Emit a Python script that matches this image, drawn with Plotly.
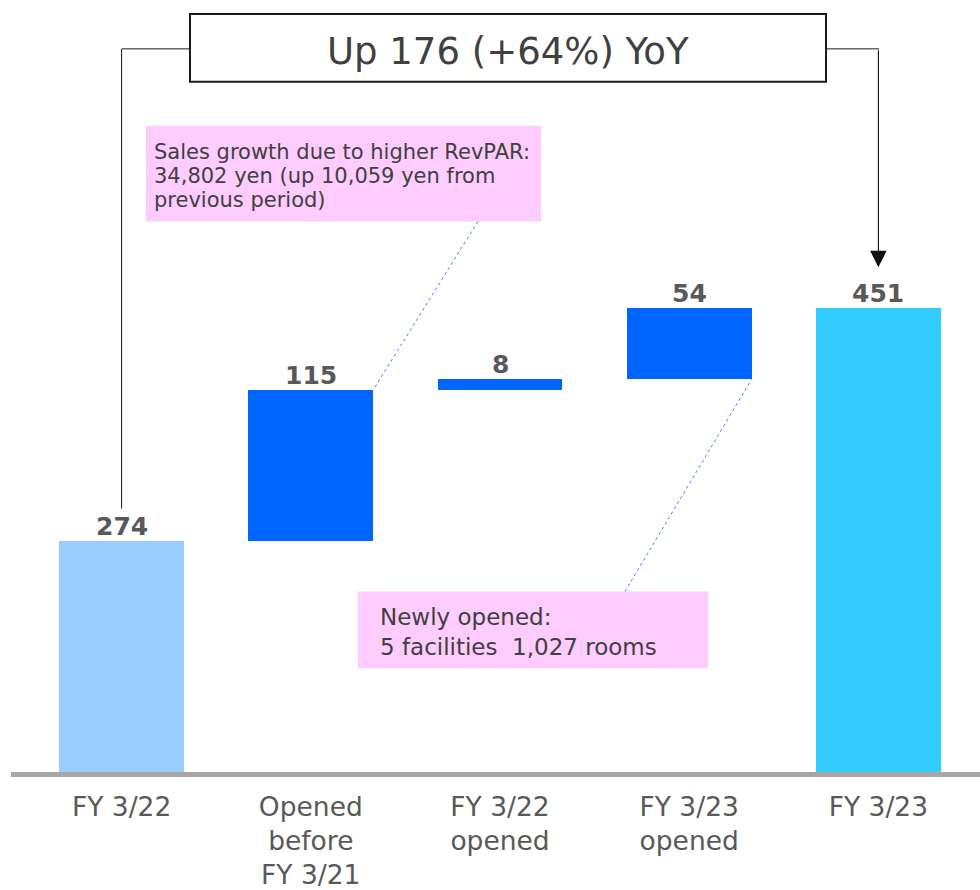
import plotly.graph_objects as go

# Sales bridge, FY 3/22 -> FY 3/23
categories = ["FY 3/22", "Opened<br>before<br>FY 3/21", "FY 3/22<br>opened", "FY 3/23<br>opened", "FY 3/23"]
values = [274, 115, 8, 54, 451]
kinds = ["total", "step", "step", "step", "total"]
bar_colors = ["#99CCFF", "#0066FF", "#0066FF", "#0066FF", "#33CCFF"]

title_text = "Up 176 (+64%) YoY"
note_revpar = ["Sales growth due to higher RevPAR:",
               "34,802 yen (up 10,059 yen from",
               "previous period)"]
note_new = "Newly opened:<br>5 facilities\u00a0 1,027 rooms"

# floating bases for the bridge steps
bases, tops, running = [], [], 0
for v, k in zip(values, kinds):
    if k == "total":
        bases.append(0)
        running = v
    else:
        bases.append(running)
        running += v
    tops.append(bases[-1] + v)

xs = list(range(len(categories)))
W, H = 980, 890
ML, MR, MT, MB = 27, 7, 0, 115
PW, PH = W - ML - MR, H - MT - MB
Y0, Y1 = 97, 686
BAR_W = 0.66


def px(x):
    return (x - ML) / PW


def py(y):
    return (H - MB - y) / PH


FONT = "DejaVu Sans"
TXT = "#404040"

fig = go.Figure()
fig.add_trace(go.Bar(
    x=xs, y=values, base=bases, width=BAR_W,
    marker=dict(color=bar_colors, line=dict(width=0)),
    hoverinfo="skip",
))

# value labels sit just above each bar's upper end
annotations = []
for xi, top, v in zip(xs, tops, values):
    annotations.append(dict(xref="x", yref="y", x=xi, y=top, text=str(v),
                            showarrow=False, xanchor="center", yanchor="bottom",
                            yshift=-2,
                            font=dict(family=FONT, size=25, color="#595959", weight="bold")))

shapes = []
# baseline
shapes.append(dict(type="line", xref="paper", yref="paper",
                   x0=px(11), x1=px(980), y0=py(776.5), y1=py(776.5),
                   line=dict(color="#ABA6A6", width=5), layer="above"))
# title box
shapes.append(dict(type="rect", xref="paper", yref="paper",
                   x0=px(190), x1=px(826), y0=py(14), y1=py(82),
                   line=dict(color="#1A1A1A", width=2), fillcolor="white"))
# connector from first total to title box
shapes.append(dict(type="line", xref="x", yref="paper",
                   x0=0, x1=0, y0=py(49), y1=py(510),
                   line=dict(color="#1A1A1A", width=1)))
shapes.append(dict(type="line", xref="paper", yref="paper",
                   x0=px(122), x1=px(190), y0=py(49), y1=py(49),
                   line=dict(color="#1A1A1A", width=1)))
# connector from title box to last total
shapes.append(dict(type="line", xref="paper", yref="paper",
                   x0=px(826), x1=px(879), y0=py(49), y1=py(49),
                   line=dict(color="#1A1A1A", width=1)))
# note boxes
shapes.append(dict(type="rect", xref="paper", yref="paper",
                   x0=px(146), x1=px(541), y0=py(126), y1=py(222),
                   line=dict(width=0), fillcolor="#FFCCFF", layer="below"))
shapes.append(dict(type="rect", xref="paper", yref="paper",
                   x0=px(358), x1=px(708), y0=py(593), y1=py(670),
                   line=dict(width=0), fillcolor="#FFCCFF", layer="below"))


# dotted leaders from the notes to the bars they describe
def leader(x_paper, y_paper, xi, yv):
    return dict(type="line", xref="paper", yref="paper",
                x0=x_paper, y0=y_paper,
                x1=px(ML + (xi + 0.5) * PW / len(xs)),
                y1=(yv - Y0) / (Y1 - Y0),
                line=dict(color="#4F7FFF", width=1, dash="dot"))


shapes.append(leader(px(478), py(222), 1 + BAR_W / 2, tops[1]))
shapes.append(leader(px(625), py(593), 3 + BAR_W / 2, bases[3]))

annotations += [
    dict(xref="paper", yref="paper", x=px(508), y=py(52), text=title_text,
         showarrow=False, xanchor="center", yanchor="middle",
         font=dict(family=FONT, size=37, color=TXT)),
    dict(xref="x", yref="y domain", x=4, y=py(268), ax=4, ay=py(49),
         axref="x", ayref="y domain", text="", showarrow=True,
         arrowhead=2, arrowsize=3, arrowwidth=1.1, arrowcolor="#111111"),
    dict(xref="paper", yref="paper", x=px(378), y=py(634), text=note_new,
         showarrow=False, xanchor="left", yanchor="middle", align="left",
         font=dict(family=FONT, size=23, color=TXT)),
]
for i, line in enumerate(note_revpar):
    annotations.append(dict(xref="paper", yref="paper", x=px(152), y=py(152 + 24.5 * i),
                            text=line, showarrow=False, xanchor="left", yanchor="middle",
                            font=dict(family=FONT, size=21, color=TXT)))

fig.update_layout(
    width=W, height=H, margin=dict(l=ML, r=MR, t=MT, b=MB),
    plot_bgcolor="white", paper_bgcolor="white",
    showlegend=False, bargap=0,
    shapes=shapes, annotations=annotations,
    xaxis=dict(tickmode="array", tickvals=xs, ticktext=categories,
               range=[-0.5, len(xs) - 0.5], showgrid=False, zeroline=False,
               showline=False, ticks="", ticklabelstandoff=15,
               tickfont=dict(family=FONT, size=26.5, color="#595959")),
    yaxis=dict(range=[Y0, Y1], visible=False, showgrid=False, zeroline=False),
)

fig.write_html("out.html")
